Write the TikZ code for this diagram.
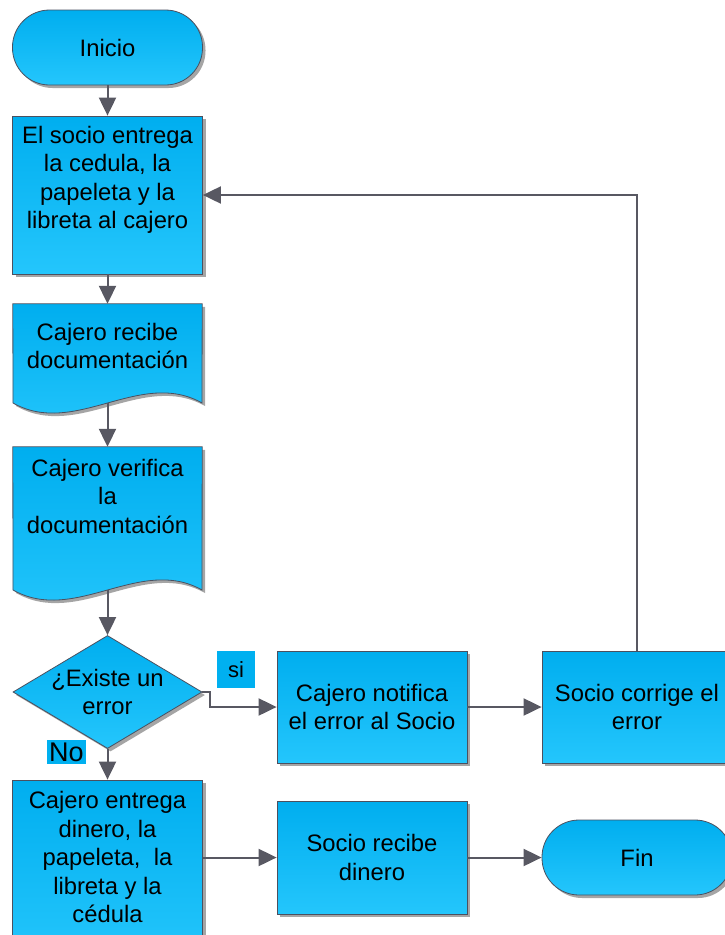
\documentclass[tikz,border=0pt]{standalone}
\usepackage{fontspec}
\setmainfont{Liberation Sans}
\usetikzlibrary{arrows.meta,shadows,shapes.geometric}
\definecolor{boxtop}{RGB}{0,174,239}
\definecolor{boxbot}{RGB}{36,198,252}
\definecolor{edge}{RGB}{75,80,95}
\definecolor{flow}{RGB}{88,88,98}
\definecolor{shade}{RGB}{165,165,165}
\definecolor{tagfill}{RGB}{0,176,240}
\tikzset{
  fillshape/.style={draw=edge, line width=0.8pt, top color=boxtop, bottom color=boxbot,
    drop shadow={shadow xshift=3pt, shadow yshift=-3pt, fill=shade, opacity=1}},
  process/.style={fillshape, rectangle, inner sep=0pt, minimum width=190pt, minimum height=#1,
    font=\fontsize{23.8}{28.5}\selectfont, align=center},
  terminal/.style={fillshape, rectangle, rounded corners=37pt, inner sep=0pt,
    minimum width=190pt, minimum height=75pt, font=\fontsize{23.8}{28.5}\selectfont},
  decision/.style={fillshape, diamond, inner sep=0pt, minimum width=189pt, minimum height=113pt},
  frame/.style={rectangle, inner sep=0pt, minimum width=189pt, minimum height=#1},
  txt/.style={font=\fontsize{23.8}{28.5}\selectfont, align=center, inner sep=0pt},
  tag/.style={fill=tagfill, inner sep=0pt, font=\fontsize{#1}{#1}\selectfont},
  flowline/.style={draw=flow, line width=2pt, -{Triangle[length=18pt,width=17pt]}}
}
\begin{document}
\begin{tikzpicture}[x=1pt, y=-1pt]
\useasboundingbox (0,0) rectangle (725,935);
\clip (0,0) rectangle (725,935);

% start
\node[terminal] (inicio) at (107.5,47.5) {Inicio};

% first step
\node[process=158pt] (entrega) at (107.5,195) {};
\node[txt] (entregaT) at (107.5,180) {El socio entrega\\la cedula, la\\papeleta y la\\libreta al cajero};

% document: cashier receives
\node[frame=99pt] (recibe) at (107.5,353.5) {};
\path[fillshape] (recibe.north west) -- (recibe.north east) -- (202,403)
  .. controls (140,368) and (75,438) .. (13,403) -- cycle;
\node[txt] (recibeT) at (107.5,346) {Cajero recibe\\documentaci\'on};
\coordinate (recibeB) at (107.5,403);

% document: cashier checks
\node[frame=143pt] (verifica) at (107.5,518.5) {};
\path[fillshape] (verifica.north west) -- (verifica.north east) -- (202,590)
  .. controls (140,555) and (75,625) .. (13,590) -- cycle;
\node[txt] (verificaT) at (107.5,496) {Cajero verifica\\la\\documentaci\'on};
\coordinate (verificaB) at (107.5,590);

% decision
\node[decision] (dec) at (107.5,692) {};
\node[txt] (decT) at (107.5,692) {¿Existe un\\error};
\node[tag=22, minimum width=38pt, minimum height=37pt] (si) at (236,669.5) {si};
\node[tag=27, minimum width=39pt, minimum height=24pt] (no) at (66.5,752) {No};

% error branch
\node[process=112pt] (notifica) at (372,707) {Cajero notifica\\el error al Socio};
\node[process=112pt] (corrige) at (637,707) {Socio corrige el\\error};

% delivery branch
\node[process=180pt] (dinero) at (107.5,870) {};
\node[txt] (dineroT) at (107.5,857) {Cajero entrega\\dinero, la\\papeleta,~ la\\libreta y la\\c\'edula};
\node[process=113pt] (socio) at (372,857.5) {Socio recibe\\dinero};
\node[terminal] (fin) at (637,857.5) {Fin};

% connectors
\draw[flowline] (inicio) -- (entrega);
\draw[flowline] (entrega) -- (recibe.north);
\draw[flowline] (recibeB) -- (verifica.north);
\draw[flowline] (verificaB) -- (dec.north);
\draw[flowline] (dec.east) -- ++(8,0) |- (notifica.west);
\draw[flowline] (notifica) -- (corrige);
\draw[flowline] (corrige.north) |- (entrega.east);
\draw[flowline] (dec.south) -- (dinero.north);
\draw[flowline] (dinero.east |- socio.west) -- (socio.west);
\draw[flowline] (socio) -- (fin);
\end{tikzpicture}
\end{document}
